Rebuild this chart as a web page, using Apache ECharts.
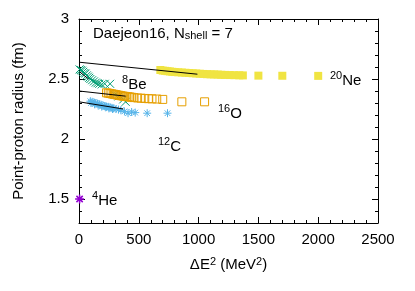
<!DOCTYPE html>
<html>
<head>
<meta charset="utf-8">
<script src="https://cdn.jsdelivr.net/npm/echarts@6/dist/echarts.min.js"></script>
<style>html,body{margin:0;padding:0;background:#fff}#c{width:415px;height:291px}</style>
</head>
<body>
<div id="c"></div>
<script>
const xTicks = [0, 500, 1000, 1500, 2000, 2500];
const yTicks = [1.5, 2, 2.5, 3];

const ne20X = [680,700,720,740,760,780,800,830,860,890,920,950,980,1010,1040,1070,1100,1130,1160,1190,1220,1260,1300,1340,1370,1500,1700,2000];
const ne20Y = [2.575,2.57,2.568,2.565,2.563,2.56,2.558,2.556,2.554,2.552,2.55,2.548,2.546,2.544,2.542,2.54,2.539,2.538,2.537,2.535,2.534,2.533,2.532,2.531,2.53,2.528,2.527,2.526];

const be8X = [5,15,25,35,45,55,65,75,85,95,110,125,140,155,170,190,215,260,300,330,370,390];
const be8Y = [2.58,2.575,2.57,2.56,2.55,2.545,2.53,2.52,2.51,2.5,2.49,2.48,2.47,2.465,2.46,2.455,2.46,2.46,2.37,2.355,2.33,2.31];

const o16X = [230,245,260,275,290,305,320,335,350,365,380,395,410,425,440,460,490,520,550,580,610,650,700,860,1050];
const o16Y = [2.385,2.382,2.379,2.376,2.373,2.37,2.367,2.364,2.361,2.358,2.356,2.354,2.352,2.35,2.348,2.345,2.342,2.34,2.338,2.336,2.335,2.333,2.33,2.31,2.31];

const c12X = [95,100,110,125,130,140,155,160,170,185,190,200,215,220,230,245,250,260,275,280,290,310,330,350,380,410,440,470,570,740];
const c12Y = [2.315,2.3,2.31,2.305,2.29,2.3,2.295,2.28,2.29,2.285,2.27,2.28,2.275,2.265,2.27,2.268,2.255,2.265,2.26,2.25,2.255,2.25,2.245,2.24,2.23,2.215,2.225,2.22,2.215,2.215];

const he4X = [5];
const he4Y = [1.5];

const fitNe20 = [[0, 2.64], [990, 2.54]];
const fitBe8 = [[8, 2.558], [80, 2.50]];
const fitO16 = [[0, 2.40], [390, 2.357]];
const fitC12 = [[0, 2.31], [370, 2.25]];

const nucLabels = [
  {name: '{sup|8}{m|Be}', x: 360, y: 2.46},
  {name: '{sup|20}{m|Ne}', x: 2098, y: 2.50},
  {name: '{sup|16}{m|O}', x: 1162, y: 2.225},
  {name: '{sup|12}{m|C}', x: 660, y: 1.95},
  {name: '{sup|4}{m|He}', x: 109, y: 1.50}
];

const pairs = (xs, ys) => xs.map((x, i) => [x, ys[i]]);
const FONT = 'Liberation Sans';
const rich = {
  m: {fontSize: 15, fontFamily: FONT, color: '#000', verticalAlign: 'bottom', lineHeight: 18},
  sup: {fontSize: 11, fontFamily: FONT, color: '#000', verticalAlign: 'top', lineHeight: 18},
  sub: {fontSize: 11, fontFamily: FONT, color: '#000', verticalAlign: 'bottom', lineHeight: 22}
};

const xCommon = {
  type: 'value', min: 0, max: 2500, interval: 500,
  axisLine: {show: true, lineStyle: {color: '#000', width: 1}},
  axisTick: {show: true, inside: true, length: 6, lineStyle: {color: '#000'}},
  minorTick: {show: true, splitNumber: 5, length: 3, lineStyle: {color: '#000'}},
  splitLine: {show: false}
};
const yMinor = {
  type: 'value', min: 1.3, max: 3, interval: 0.1,
  axisLine: {show: true, lineStyle: {color: '#000', width: 1}},
  axisTick: {show: true, inside: true, length: 3, lineStyle: {color: '#000'}},
  splitLine: {show: false}
};
const yMajor = {
  type: 'value', min: 1.3, max: 3, interval: 0.1,
  axisLine: {show: false},
  axisTick: {show: true, inside: true, length: 6, customValues: yTicks, lineStyle: {color: '#000'}},
  axisLabel: {show: false},
  splitLine: {show: false}
};

const chart = echarts.init(document.getElementById('c'), null, {renderer: 'canvas'});
chart.setOption({
  animation: false,
  backgroundColor: '#fff',
  grid: {left: 79, right: 37, top: 19, bottom: 68},
  xAxis: [
    Object.assign({}, xCommon, {
      position: 'bottom',
      axisLabel: {show: true, fontSize: 15, fontFamily: FONT, color: '#000', margin: 9, customValues: xTicks,
        formatter: v => String(v)},
      name: 'ΔE{sup|2} (MeV{sup|2})', nameLocation: 'middle', nameGap: 33,
      nameTextStyle: {fontSize: 15, fontFamily: FONT, color: '#000', rich: rich}
    }),
    Object.assign({}, xCommon, {position: 'top', axisLabel: {show: false}})
  ],
  yAxis: [
    Object.assign({}, yMinor, {
      position: 'left',
      axisLabel: {show: true, fontSize: 15, fontFamily: FONT, color: '#000', margin: 10, customValues: yTicks,
        formatter: v => String(Math.round(v * 10) / 10)},
      name: 'Point-proton radius (fm)', nameLocation: 'middle', nameGap: 53, nameRotate: 90,
      nameTextStyle: {fontSize: 15, fontFamily: FONT, color: '#000'}
    }),
    Object.assign({}, yMajor, {position: 'left'}),
    Object.assign({}, yMinor, {position: 'right', axisLabel: {show: false}}),
    Object.assign({}, yMajor, {position: 'right'})
  ],
  graphic: [{
    type: 'text', left: 93, top: 26,
    style: {text: '{m|Daejeon16, N}{sub|shell}{m| = 7}', rich: rich}
  }],
  series: [
    {type: 'scatter', data: pairs(ne20X, ne20Y), symbol: 'rect', symbolSize: 8,
      itemStyle: {color: '#f0e442', opacity: 1}, z: 2},
    {type: 'scatter', data: pairs(be8X, be8Y), symbol: 'path://M0,0L10,10M10,0L0,10', symbolSize: 8,
      itemStyle: {color: 'rgba(0,0,0,0)', borderColor: '#009e73', borderWidth: 1, opacity: 1}, z: 2},
    {type: 'scatter', data: pairs(o16X, o16Y), symbol: 'rect', symbolSize: 8,
      itemStyle: {color: 'rgba(0,0,0,0)', borderColor: '#e69f00', borderWidth: 1, opacity: 1}, z: 2},
    {type: 'scatter', data: pairs(c12X, c12Y), symbol: 'path://M5,0L5,10M0,5L10,5M1.5,1.5L8.5,8.5M8.5,1.5L1.5,8.5', symbolSize: 8,
      itemStyle: {color: 'rgba(0,0,0,0)', borderColor: '#56b4e9', borderWidth: 1, opacity: 1}, z: 2},
    {type: 'scatter', data: pairs(he4X, he4Y), symbol: 'path://M5,0L5,10M0,5L10,5M1.5,1.5L8.5,8.5M8.5,1.5L1.5,8.5', symbolSize: 9,
      itemStyle: {color: 'rgba(0,0,0,0)', borderColor: '#9400d3', borderWidth: 1.5, opacity: 1}, z: 2},
    ...[fitNe20, fitBe8, fitO16, fitC12].map(d => ({
      type: 'line', data: d, symbol: 'none', lineStyle: {color: '#000', width: 1}, z: 5, silent: true
    })),
    {type: 'scatter', symbolSize: 0, z: 6, silent: true,
      itemStyle: {opacity: 1},
      data: nucLabels.map(l => ({value: [l.x, l.y], name: l.name})),
      label: {show: true, position: 'right', distance: 0, color: '#000', formatter: p => p.name, rich: rich}}
  ]
});
</script>
</body>
</html>
